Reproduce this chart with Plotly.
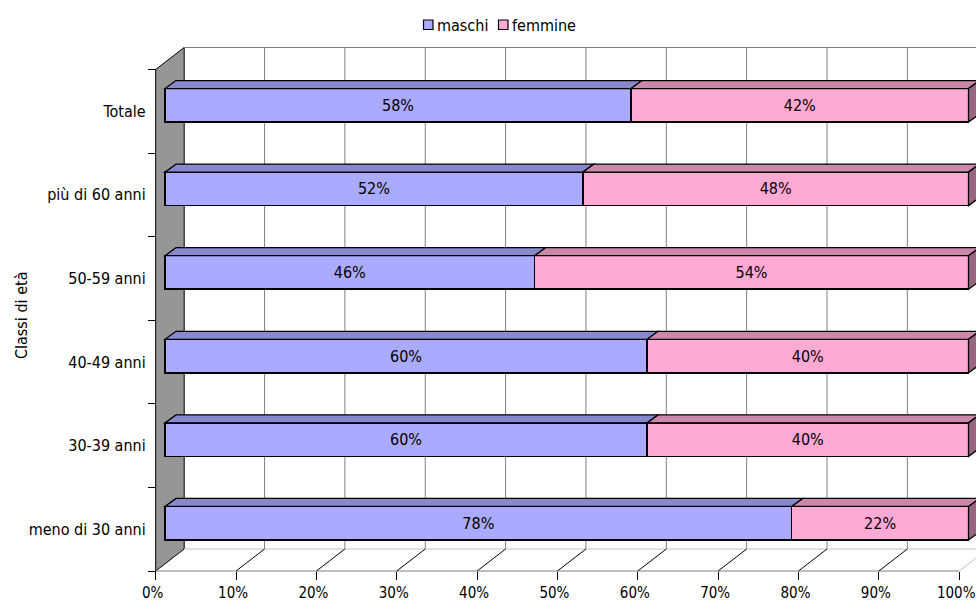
import plotly.graph_objects as go

# ---- data -------------------------------------------------------------
categories = ['meno di 30 anni', '30-39 anni', '40-49 anni', '50-59 anni',
              'più di 60 anni', 'Totale']
maschi = [78, 60, 60, 46, 52, 58]
femmine = [22, 40, 40, 54, 48, 42]
series_names = ['maschi', 'femmine']
pct_ticks = [0, 10, 20, 30, 40, 50, 60, 70, 80, 90, 100]
pct_labels = ['0%', '10%', '20%', '30%', '40%', '50%', '60%', '70%', '80%', '90%', '100%']
axis_title = 'Classi di età'

# ---- styling ----------------------------------------------------------
W, H = 976, 603
FONT = 'DejaVu Sans Condensed, Liberation Sans Narrow, Arial Narrow, sans-serif'
FS = 16
FRONT = ['#AAAAFF', '#FFAAD4']
TOP = ['#8888CC', '#CC88AA']
SIDE = ['#666699', '#996680']
WALL = '#969696'
GRID = '#808080'

# ---- 3D box geometry (pixels) -----------------------------------------
PX_PER_PCT = 8.035
FRONT_X0 = 155.7          # 0% on the front edge of the floor
BAR_X0 = 165.0            # 0% on the front faces of the bars
BAND_BOTTOM = 571.0       # front edge of the floor
BAND_TOP = 69.5           # top of the front edge of the side wall
N = len(categories)
PITCH = (BAND_BOTTOM - BAND_TOP) / N
DEPTH_X, DEPTH_Y = 28.5, 22.0     # depth of floor / walls
BAR_DX, BAR_DY = 11.0, 8.0        # thickness of the bars
BAR_H = 33.5
BAR_LIFT = 6.0

x_range = [-FRONT_X0 / PX_PER_PCT, (W - FRONT_X0) / PX_PER_PCT]
x2_range = [-BAR_X0 / PX_PER_PCT, (W - BAR_X0) / PX_PER_PCT]
row0 = BAND_BOTTOM - PITCH / 2
y_range = [(row0 - H) / PITCH, row0 / PITCH]

dxu = DEPTH_X / PX_PER_PCT
dyu = DEPTH_Y / PITCH
bdx = BAR_DX / PX_PER_PCT
bdy = BAR_DY / PITCH
bar_w = BAR_H / PITCH
bar_off = BAR_LIFT / PITCH - bar_w / 2


def poly(pts):
    return 'M ' + ' L '.join(f'{x:.4f},{y:.4f}' for x, y in pts) + ' Z'


def seg(x0, y0, x1, y1, color, width=1, xref='x'):
    return dict(type='line', xref=xref, yref='y', x0=x0, y0=y0, x1=x1, y1=y1,
                line=dict(color=color, width=width), layer='below')


shapes = []
lo, hi = -0.5, N - 0.5
vmax = pct_ticks[-1]

# side wall
shapes.append(dict(type='path', xref='x', yref='y', layer='below',
                   path=poly([(0, lo), (0, hi), (dxu, hi + dyu), (dxu, lo + dyu)]),
                   fillcolor=WALL, line=dict(color='#000000', width=1)))
# back wall gridlines and top edge
for v in pct_ticks[1:]:
    shapes.append(seg(v + dxu, lo + dyu, v + dxu, hi + dyu, GRID))
shapes.append(seg(dxu, hi + dyu, vmax + dxu, hi + dyu, GRID))
# floor
shapes.append(seg(dxu, lo + dyu, vmax + dxu, lo + dyu, '#C0C0C0'))
shapes.append(seg(0, lo, vmax, lo, GRID))
for v in pct_ticks[1:-1]:
    shapes.append(seg(v, lo, v + dxu, lo + dyu, '#000000'))
shapes.append(seg(vmax, lo, vmax + dxu, lo + dyu, '#C0C0C0'))

# top and end faces of the bars
series = [maschi, femmine]
for i in range(N):
    yb = i + bar_off
    yt = yb + bar_w
    start = 0
    for k, vals in enumerate(series):
        a, b = start, start + vals[i]
        shapes.append(dict(type='path', xref='x2', yref='y', layer='above',
                           path=poly([(a, yt), (b, yt), (b + bdx, yt + bdy), (a + bdx, yt + bdy)]),
                           fillcolor=TOP[k], line=dict(color='#000000', width=1.3)))
        start = b
    shapes.append(dict(type='path', xref='x2', yref='y', layer='above',
                       path=poly([(start, yb), (start, yt), (start + bdx, yt + bdy), (start + bdx, yb + bdy)]),
                       fillcolor=SIDE[-1], line=dict(color='#000000', width=1.3)))

fig = go.Figure()
for k, vals in enumerate(series):
    fig.add_trace(go.Bar(
        y=categories, x=vals, name=series_names[k], orientation='h',
        xaxis='x2', yaxis='y',
        width=[bar_w] * N, offset=[bar_off] * N,
        marker=dict(color=FRONT[k], line=dict(color='#000000', width=1.5)),
        text=[f'{v}%' for v in vals], textposition='inside',
        insidetextanchor='middle', constraintext='none',
        textfont=dict(family=FONT, size=FS, color='#000000'),
        hoverinfo='skip', cliponaxis=False,
    ))

# legend drawn as boxes + labels
legend_items = [(423.5, series_names[0]), (498.5, series_names[1])]
annotations = []
for k, (lx, name) in enumerate(legend_items):
    shapes.append(dict(type='rect', xref='paper', yref='paper',
                       x0=lx / W, x1=(lx + 9.5) / W, y0=1 - 29.5 / H, y1=1 - 20 / H,
                       fillcolor=FRONT[k], line=dict(color='#000000', width=1.2)))
    annotations.append(dict(xref='paper', yref='paper', x=(lx + 11) / W, y=1 - 25 / H,
                            xanchor='left', yanchor='middle', showarrow=False, text=name,
                            font=dict(family=FONT, size=FS, color='#000000')))

annotations.append(dict(xref='paper', yref='paper', x=22 / W, y=1 - 316 / H,
                        xanchor='center', yanchor='middle', showarrow=False,
                        text=axis_title, textangle=-90,
                        font=dict(family=FONT, size=FS, color='#000000')))

fig.update_layout(
    width=W, height=H,
    margin=dict(l=0, r=0, t=0, b=0),
    paper_bgcolor='#FFFFFF', plot_bgcolor='#FFFFFF',
    barmode='stack', showlegend=False,
    xaxis=dict(range=x_range, anchor='free', position=(H - BAND_BOTTOM) / H,
               tickvals=pct_ticks, ticktext=pct_labels,
               ticks='outside', ticklen=8, tickwidth=1, tickcolor='#000000',
               ticklabeloverflow='allow', ticklabelshift=-3,
               showgrid=False, zeroline=False, showline=False, automargin=False,
               tickfont=dict(family=FONT, size=15, color='#000000'), fixedrange=True),
    xaxis2=dict(range=x2_range, overlaying='x', anchor='y', visible=False,
                showgrid=False, zeroline=False, fixedrange=True),
    yaxis=dict(type='category', categoryorder='array', categoryarray=categories,
               range=y_range, anchor='free', position=FRONT_X0 / W,
               tickson='boundaries', ticks='outside', ticklen=8, tickwidth=1,
               tickcolor='#000000', ticklabelstandoff=10,
               showgrid=False, zeroline=False, showline=False,
               automargin=False, tickfont=dict(family=FONT, size=FS, color='#000000'),
               fixedrange=True),
    shapes=shapes,
    annotations=annotations,
)

fig.write_html('out.html')
